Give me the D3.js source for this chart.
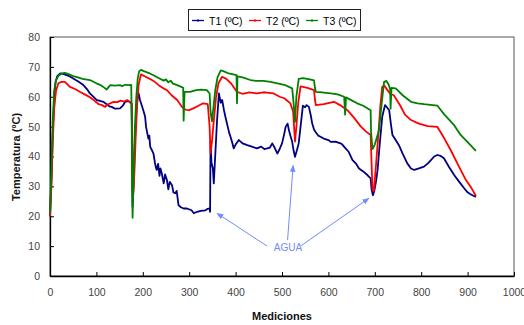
<!DOCTYPE html>
<html><head><meta charset="utf-8">
<script src="https://cdn.jsdelivr.net/npm/d3@7"></script>
<style>body{margin:0;background:#fff}svg{display:block}text{font-family:"Liberation Sans",Arial,sans-serif}</style>
</head><body><svg id="c" width="524" height="325"></svg>
<script>
const seriesNames = ["T1 (ºC)", "T2 (ºC)", "T3 (ºC)"];
const xTicks = [0,100,200,300,400,500,600,700,800,900,1000];
const yTicks = [0,10,20,30,40,50,60,70,80];

const t1 = [[0,20],[3,32],[6,48],[9,60],[12,65],[16,67],[22,67.8],[30,67.6],[40,67],[50,66.1],[60,65.2],[72,63.9],[80,62.5],[86,61.1],[95,59.8],[101,58.9],[110,58.5],[115,58.3],[122,57.5],[128,56.8],[133,56.6],[140,56],[151,56.1],[157,57],[162,58.3],[168,58.5],[172,58.3],[176,57.5],[177,40],[178,23.2],[180,30],[183,45],[186,55],[189,60],[191,61.1],[194,58.9],[198,57],[202,55],[205,53.3],[207,50],[209,48.3],[212,46],[214,47],[216,43.2],[220,42],[223,41],[226,38],[228,36.5],[230,35.5],[233,37.5],[236,33.5],[238,36],[241,34.3],[245,31],[248,34],[252,32.1],[255,29],[258,31.5],[263,30.4],[266,28],[270,27.7],[273,28.5],[277,23.7],[282,23],[288,22.6],[295,22.6],[305,22],[310,21],[317,21.5],[325,21.8],[335,22],[340,22.5],[344,22.6],[345,21.5],[346,45],[348,38],[351,36],[353,31],[356,40],[360,52],[364,61.1],[368,58],[371,58.9],[375,55.5],[378,53.3],[383,50],[386,48],[389,46.6],[393,44.5],[396,42.7],[400,44],[407,45.5],[415,44.4],[425,43.8],[435,43.3],[446,42.7],[455,43.3],[462,42.5],[468,42.7],[474,43],[479,44.4],[484,43],[490,41],[495,42.5],[500,44.4],[504,47],[508,50],[512,51],[515,48.8],[518,47],[522,44.9],[525,42],[528,39.9],[532,42],[536,44.4],[540,50],[545,57],[550,56.5],[553,57.2],[558,56.6],[562,53.8],[565,51.1],[569,49],[572,48.3],[578,47],[583,46.6],[590,46],[600,45.5],[605,44.9],[615,45],[626,44.4],[630,44],[637,42.7],[644,41.5],[652,38.8],[660,37.5],[666,36],[675,35],[684,33.8],[691,32.7],[693,29],[696,27],[699,28.5],[703,32],[706,35.5],[710,43],[716,53.3],[722,57.2],[726,56.5],[731,55.5],[735,50.5],[738,47.2],[745,45.5],[752,43.8],[760,41],[770,37.7],[778,36],[785,35.5],[795,36],[806,36.6],[815,37.8],[821,38.8],[828,40],[835,40.5],[842,40.2],[849,39.4],[860,36.5],[871,33.8],[882,31.5],[893,29.3],[900,28],[908,27.2],[918,26.5]];

const t2 = [[0,20],[3,30],[6,45],[9,56],[13,62],[18,64.5],[25,65],[32,65],[43,63.3],[55,62.5],[65,61.6],[75,60.8],[86,59.8],[95,58.8],[105,57.5],[112,57.2],[119,56.6],[124,57.4],[137,58.3],[145,58.2],[152,58.7],[160,58.4],[166,58.9],[172,58.3],[176,57.8],[177,45],[178,30],[179,26.5],[182,35],[185,48],[188,58],[191,64],[196,67.5],[205,66.8],[215,66],[223,65.3],[235,63.8],[245,62.8],[252,62.2],[262,60.5],[274,58.9],[285,56.5],[293,55.6],[300,55.5],[310,56.2],[320,57],[330,57.8],[340,57.5],[344,50],[346,41],[349,45],[353,52],[358,60],[363,64.5],[371,66.7],[380,66],[390,64.5],[403,61.6],[415,61],[430,61.5],[446,61.1],[460,61.5],[472,61.3],[482,61.1],[495,60],[505,59.5],[518,57.8],[524,55],[528,45],[531,50],[535,58],[540,63.5],[555,63],[569,62.2],[571,59],[573,57.2],[590,57.5],[612,58.3],[625,57.2],[641,55.5],[655,53],[670,50],[680,48.5],[691,47.2],[693,38],[695,29],[698,28.5],[703,38],[708,48],[712,57],[716,63.3],[720,63.8],[727,62.3],[733,61],[741,60.5],[755,57],[765,54],[778,52.2],[795,51],[814,50.2],[835,49.9],[850,46],[864,42],[880,37],[895,32.5],[908,29.5],[918,26.8]];

const t3 = [[0,21],[3,35],[6,52],[9,62],[13,65.5],[18,67],[25,67.8],[32,68],[40,67.6],[50,66.9],[60,66.5],[70,66],[86,65.6],[100,64.5],[108,64],[115,63.3],[122,62.4],[127,63.4],[130,63.9],[140,63.7],[151,63.9],[155,63.5],[162,64],[172,63.9],[175,64],[176,55],[177,30],[178,19.5],[180,35],[183,50],[186,60],[189,66],[192,68.5],[196,69],[205,68.4],[215,67.8],[223,67.2],[235,66.2],[245,65.4],[250,65.8],[255,64.8],[260,65.4],[265,64.4],[274,63.9],[283,63.3],[287,63],[288,52],[290,61.6],[302,61.6],[315,62.2],[325,62.4],[338,62.2],[344,61.1],[346,55],[349,51.8],[352,56],[356,62],[361,66.5],[368,68.8],[375,68.5],[385,67.8],[395,67.5],[402,67.2],[403,57.8],[404,66.8],[415,66.5],[432,65.6],[445,65.3],[460,65.3],[475,65],[490,64.5],[505,64],[515,63.3],[522,62.8],[526,56],[528,51.6],[531,60],[536,66],[545,66.2],[560,65.8],[569,65.5],[571,63],[573,61.6],[585,61.5],[605,61.1],[620,60.8],[634,60],[636,54],[638,59.8],[650,58.8],[662,57.8],[675,57],[691,55.5],[692,48],[695,42.5],[700,44],[709,48.8],[715,58],[720,65],[725,65.3],[730,64],[733,62.5],[734,56],[736,63],[745,62.8],[760,60.5],[778,58.3],[792,57.8],[806,57.5],[820,57.3],[835,57],[850,54],[871,50.5],[885,47.2],[900,44.8],[918,41.9]];

const seriesData = [t1, t2, t3];
const colors = ["#000080", "#FF0000", "#008000"];

// annotation (data coordinates)
const annoLabel = "AGUA";
const annoText = [513, 8.5];
const annoArrows = [[[468,10],[360,21]],[[512,12],[524,37]],[[540,10],[687,26]]];

const svg = d3.select("#c");
const M = {l:50, r:514, t:37, b:276};
const x = d3.scaleLinear().domain([0,1000]).range([M.l, M.r]);
const y = d3.scaleLinear().domain([0,80]).range([M.b, M.t]);

// frame
svg.append("rect").attr("x",M.l).attr("y",M.t).attr("width",M.r-M.l).attr("height",M.b-M.t)
  .attr("fill","none").attr("stroke","#555").attr("stroke-width",1);

const gx = svg.append("g").attr("transform",`translate(0,${M.b})`)
  .call(d3.axisBottom(x).tickValues(xTicks).tickSizeInner(-4).tickSizeOuter(0).tickPadding(13).tickFormat(d3.format("d")));
const gy = svg.append("g").attr("transform",`translate(${M.l},0)`)
  .call(d3.axisLeft(y).tickValues(yTicks).tickSizeInner(-4).tickSizeOuter(0).tickPadding(10).tickFormat(d3.format("d")));
[gx,gy].forEach(g=>{
  g.select(".domain").attr("stroke","#000").attr("stroke-width",1.3);
  g.selectAll(".tick line").attr("stroke","#000");
  g.selectAll(".tick text").attr("fill","#444").style("font-size","10.5px").style("font-family","'Liberation Sans',Arial,sans-serif");
});

const line = d3.line().x(d=>x(d[0])).y(d=>y(d[1]));
seriesData.forEach((s,i)=>{
  svg.append("path").datum(s).attr("d",line).attr("fill","none")
    .attr("stroke",colors[i]).attr("stroke-width",1.8).attr("stroke-linejoin","round");
});

// annotation arrows
const ac = "#6f8cff";
svg.append("defs").append("marker").attr("id","ah").attr("viewBox","0 0 10 10")
  .attr("refX",9).attr("refY",5).attr("markerWidth",7).attr("markerHeight",7).attr("orient","auto")
  .append("path").attr("d","M0,1 L10,5 L0,9 z").attr("fill",ac);
annoArrows.forEach(a=>{
  svg.append("line").attr("x1",x(a[0][0])).attr("y1",y(a[0][1])).attr("x2",x(a[1][0])).attr("y2",y(a[1][1]))
    .attr("stroke",ac).attr("stroke-width",1).attr("marker-end","url(#ah)");
});
svg.append("text").attr("x",x(annoText[0])).attr("y",y(annoText[1])).attr("text-anchor","middle")
  .attr("fill",ac).style("font-size","10px").text(annoLabel);

// axis titles
svg.append("text").attr("x",(M.l+M.r)/2).attr("y",320).attr("text-anchor","middle")
  .style("font-size","11px").style("font-weight","bold").attr("fill","#111").text("Mediciones");
svg.append("text").attr("transform","translate(20,157) rotate(-90)").attr("text-anchor","middle")
  .style("font-size","11px").style("font-weight","bold").attr("fill","#111").text("Temperatura (ºC)");

// legend
const lg = svg.append("g");
lg.append("rect").attr("x",188.5).attr("y",9.5).attr("width",172).attr("height",21)
  .attr("fill","#fff").attr("stroke","#222").attr("stroke-width",1);
const lx = [192, 249, 306];
seriesNames.forEach((n,i)=>{
  lg.append("line").attr("x1",lx[i]).attr("x2",lx[i]+12).attr("y1",20.5).attr("y2",20.5)
    .attr("stroke",colors[i]).attr("stroke-width",1.3);
  lg.append("rect").attr("x",lx[i]+5).attr("y",19.5).attr("width",2).attr("height",2).attr("fill",colors[i]);
  lg.append("text").attr("x",lx[i]+17).attr("y",24.5).style("font-size","10.5px").attr("fill","#000").text(n);
});
</script></body></html>
